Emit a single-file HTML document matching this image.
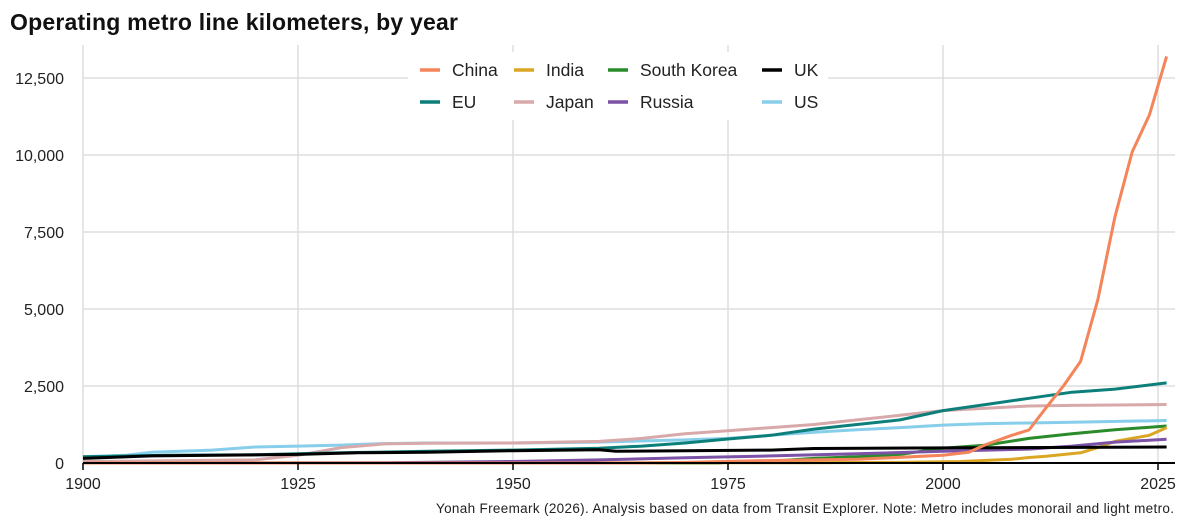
<!DOCTYPE html>
<html><head><meta charset="utf-8"><style>
body{margin:0;background:#fff;font-family:"Liberation Sans",sans-serif}
svg text{font-family:"Liberation Sans",sans-serif}
</style></head><body>
<svg id="c" width="1200" height="525">
<text x="10" y="30" font-size="23" font-weight="bold" fill="#111" textLength="448">Operating metro line kilometers, by year</text>
<g id="grid"></g><g id="series"></g><g id="axes"></g>
<rect x="408" y="52" width="420" height="68" fill="#fff"/>
<g id="legend"></g>
<text x="1174" y="513" font-size="13.5" text-anchor="end" fill="#222" textLength="738">Yonah Freemark (2026). Analysis based on data from Transit Explorer. Note: Metro includes monorail and light metro.</text>
</svg>
<script>
const xTicks=[1900,1925,1950,1975,2000,2025];
const yTicks=[0,2500,5000,7500,10000,12500];
const yTickLabels=["0","2,500","5,000","7,500","10,000","12,500"];
const seriesNames=["China","EU","India","Japan","South Korea","Russia","UK","US"];
const seriesColors=["#f4845a","#0c7f7a","#dba623","#d8a9aa","#2a8b2a","#7b52a5","#000000","#87ceeb"];
const chinaYears=[1900,1965,1970,1980,1990,2000,2003,2005,2008,2010,2012,2014,2016,2018,2020,2022,2024,2026];
const chinaVals=[0,0,20,80,120,250,350,600,900,1070,1800,2500,3300,5300,8000,10100,11300,13200];
const euYears=[1900,1910,1920,1925,1930,1940,1950,1960,1965,1970,1975,1980,1985,1990,1995,2000,2005,2010,2015,2020,2026];
const euVals=[200,250,270,300,330,380,420,480,550,650,780,900,1100,1250,1400,1700,1900,2100,2300,2400,2600];
const indiaYears=[1900,1984,1995,2002,2008,2010,2012,2016,2018,2020,2024,2026];
const indiaVals=[0,10,20,50,120,180,220,330,500,700,900,1150];
const japanYears=[1900,1920,1925,1930,1935,1940,1950,1960,1965,1970,1975,1980,1985,1990,1995,2000,2005,2010,2015,2026];
const japanVals=[50,100,250,500,620,640,650,700,800,950,1050,1150,1250,1400,1550,1700,1780,1850,1870,1900];
const koreaYears=[1900,1974,1975,1980,1985,1990,1995,2000,2005,2010,2015,2020,2026];
const koreaVals=[0,0,30,60,150,200,280,480,580,800,950,1080,1200];
const russiaYears=[1900,1935,1950,1960,1970,1980,1990,2000,2010,2015,2020,2026];
const russiaVals=[0,10,50,100,170,230,300,380,450,550,680,770];
const ukYears=[1900,1908,1925,1932,1940,1950,1960,1962,1970,1980,1985,2000,2026];
const ukVals=[150,230,280,330,350,400,430,380,400,420,470,490,520];
const usYears=[1900,1905,1908,1915,1920,1925,1930,1935,1940,1950,1960,1970,1975,1980,1985,1990,1995,2000,2005,2010,2015,2026];
const usVals=[200,250,350,420,520,550,580,630,650,650,680,750,800,900,1000,1080,1150,1230,1280,1300,1320,1380];
const allYears=[chinaYears,euYears,indiaYears,japanYears,koreaYears,russiaYears,ukYears,usYears];
const allVals=[chinaVals,euVals,indiaVals,japanVals,koreaVals,russiaVals,ukVals,usVals];

const NS="http://www.w3.org/2000/svg";
const X=y=>83+(y-1900)*8.6;
const Y=v=>463-v*0.0308;
function mk(tag,attrs,parent){const e=document.createElementNS(NS,tag);for(const k in attrs)e.setAttribute(k,attrs[k]);parent.appendChild(e);return e;}
const grid=document.getElementById('grid'),axes=document.getElementById('axes'),ser=document.getElementById('series'),leg=document.getElementById('legend');
yTicks.forEach((t,i)=>{
  const l=mk('line',{x1:83,x2:1175,y1:Y(t),y2:Y(t),stroke:'#ddd','stroke-width':1.5},grid);
  
  
  const tx=mk('text',{x:64,y:Y(t)+6,'text-anchor':'end','font-size':16,fill:'#222'},axes);
  tx.textContent=yTickLabels[i];
  
  
});
xTicks.forEach(t=>{
  const l=mk('line',{x1:X(t),x2:X(t),y1:45,y2:463,stroke:'#ddd','stroke-width':1.5},grid);
  
  
  const tk=mk('line',{x1:X(t),x2:X(t),y1:463,y2:470,stroke:'#000','stroke-width':1.5},axes);
  
  
  const tx=mk('text',{x:X(t),y:489,'text-anchor':'middle','font-size':16,fill:'#222'},axes);
  tx.textContent=t;
  
  
});
const ax=mk('line',{x1:83,x2:1175,y1:463,y2:463,stroke:'#000','stroke-width':2},axes);


const order=[7,3,1,4,2,5,6,0];
order.forEach(i=>{
  const d=allYears[i].map((y,j)=>(j?'L':'M')+X(y).toFixed(1)+','+Y(allVals[i][j]).toFixed(1)).join('');
  const p=mk('path',{d:d,fill:'none',stroke:seriesColors[i],'stroke-width':3,'stroke-linejoin':'round'},ser);
  
  
});
const legPos=[[420,70],[420,102],[514,70],[514,102],[608,70],[608,102],[762,70],[762,102]];
const legOrder=[0,1,2,3,4,5,6,7];
legOrder.forEach((i,k)=>{
  const g=mk('g',{},leg);
  
  
  const [lx,ly]=legPos[k];
  mk('line',{x1:lx,x2:lx+20,y1:ly,y2:ly,stroke:seriesColors[i],'stroke-width':3.5},g);
  const t=mk('text',{x:lx+32,y:ly+6,'font-size':17.5,fill:'#222'},g);
  t.textContent=seriesNames[i];
});
</script>
</body></html>
